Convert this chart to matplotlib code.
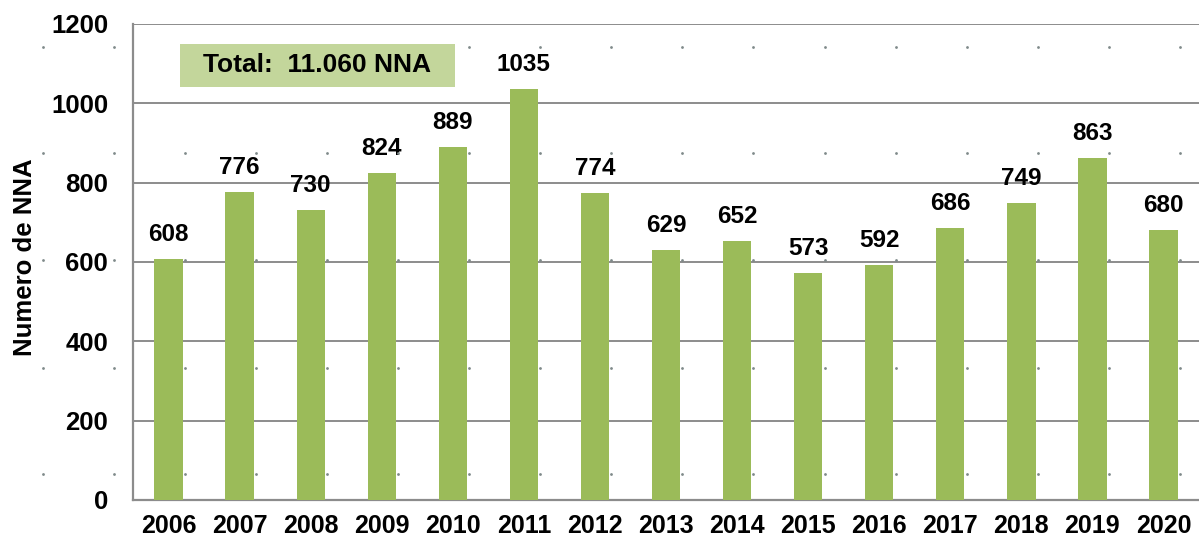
import matplotlib.pyplot as plt
from matplotlib.patches import Rectangle
import numpy as np

years = ["2006", "2007", "2008", "2009", "2010", "2011", "2012", "2013",
         "2014", "2015", "2016", "2017", "2018", "2019", "2020"]
nna = [608, 776, 730, 824, 889, 1035, 774, 629, 652, 573, 592, 686, 749, 863, 680]
yticks = [0, 200, 400, 600, 800, 1000, 1200]
total_label = "Total:  11.060 NNA"

plt.rcParams['font.family'] = ['Liberation Sans', 'DejaVu Sans']

fig = plt.figure(figsize=(11.99, 5.44), dpi=100)
ax = fig.add_axes([0.111, 0.081, 0.889, 0.875])

x = np.arange(len(years))
ax.bar(x, nna, width=0.4, color="#9BBB59", zorder=3)

for xi, v in zip(x, nna):
    ax.annotate(str(v), (xi, v), xytext=(0, 13), textcoords="offset points",
                ha="center", va="baseline", fontsize=17.5, fontweight="bold")

# faint dots left over from the original chart background
dot_x = np.arange(-2, len(years)) + 0.23
dot_y = [66, 333, 605, 875, 1142]
for yd in dot_y:
    ax.scatter(dot_x, [yd] * len(dot_x), s=4, color="#7f8a8a", zorder=4,
               clip_on=False, linewidths=0)

ax.set_xlim(-0.5, len(years) - 0.5)
ax.set_ylim(0, 1200)
ax.set_yticks(yticks)
ax.set_xticks(x)
ax.set_xticklabels(years, fontsize=18, fontweight="bold")
ax.set_yticklabels([str(t) for t in yticks], fontsize=18.5, fontweight="bold")
ax.tick_params(axis="y", length=0, pad=18)
ax.tick_params(axis="x", length=0, pad=10)
ax.yaxis.grid(True, color="#8c8c8c", linewidth=1.4, zorder=1)
ax.set_axisbelow(True)

for s in ["top", "right"]:
    ax.spines[s].set_visible(False)
ax.spines["left"].set_color("#8c8c8c")
ax.spines["bottom"].set_color("#8c8c8c")
ax.spines["left"].set_linewidth(1.6)
ax.spines["bottom"].set_linewidth(1.6)

ax.set_ylabel("Numero de NNA", fontsize=18.5, fontweight="bold")
ax.yaxis.set_label_coords(-0.09, 0.51)

ax.add_patch(Rectangle((0.044, 0.868), 0.258, 0.090, transform=ax.transAxes,
                       facecolor="#C3D69B", edgecolor="none", zorder=5))
ax.text(0.173, 0.913, total_label, transform=ax.transAxes, fontsize=19,
        fontweight="bold", va="center", ha="center", zorder=6)

fig.savefig("out.png", dpi=100)
